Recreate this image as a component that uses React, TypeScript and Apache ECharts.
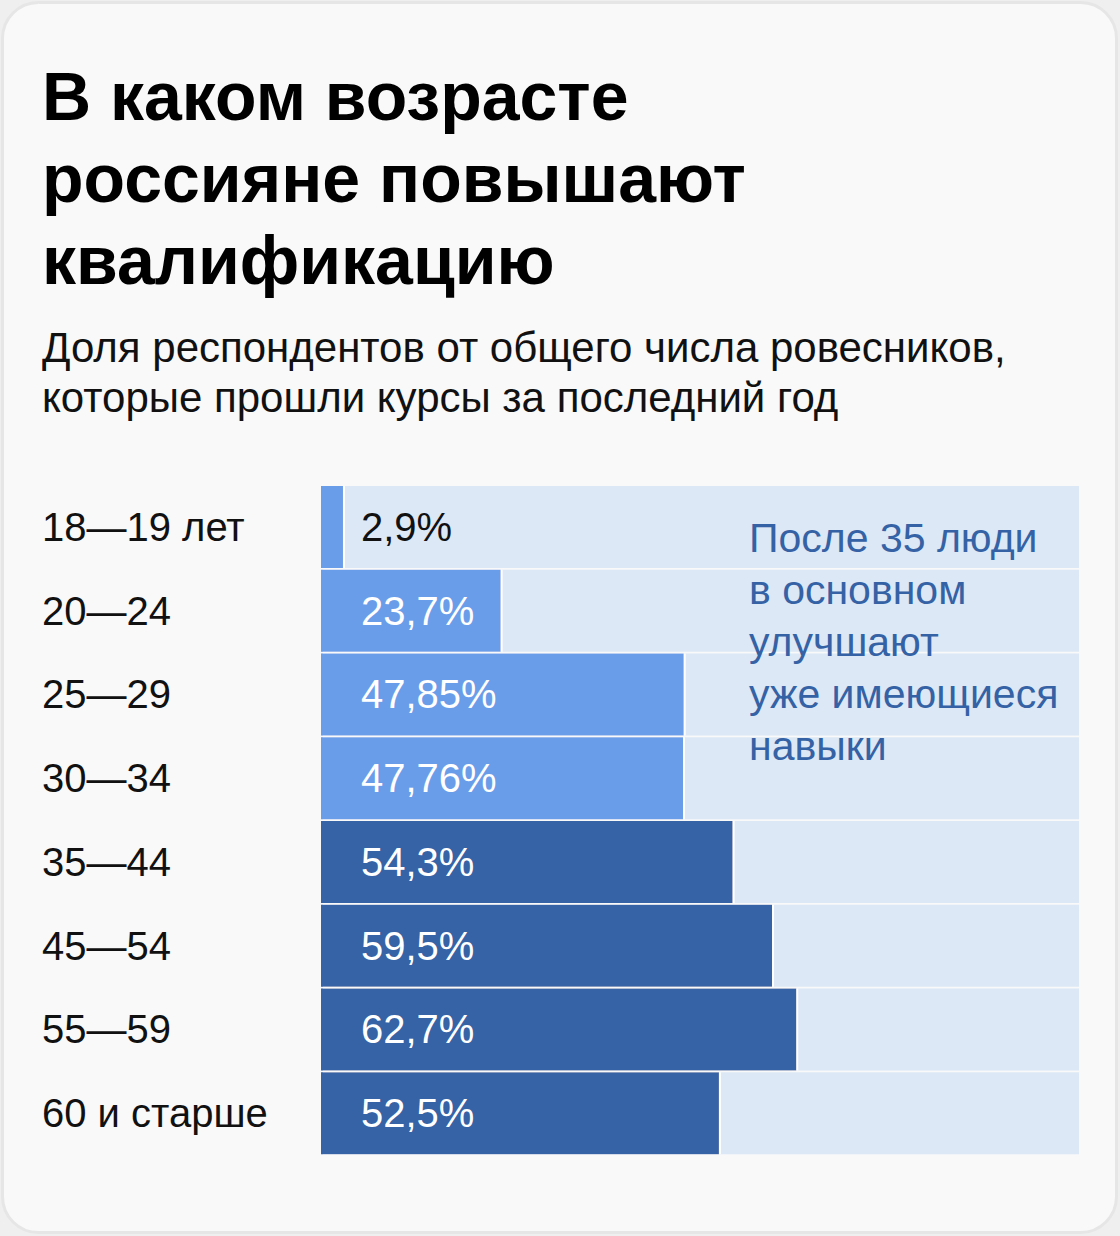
import React, { useEffect, useRef } from "react";
import * as echarts from "echarts";

const categories = ["18—19 лет", "20—24", "25—29", "30—34", "35—44", "45—54", "55—59", "60 и старше"];
const values = [2.9, 23.7, 47.85, 47.76, 54.3, 59.5, 62.7, 52.5];
const valueLabels = ["2,9%", "23,7%", "47,85%", "47,76%", "54,3%", "59,5%", "62,7%", "52,5%"];
const groups = ["young", "young", "young", "young", "old", "old", "old", "old"];
const fullScale = [100, 100, 100, 100, 100, 100, 100, 100];

const titleText = "В каком возрасте\nроссияне повышают\nквалификацию";
const subtitleText = "Доля респондентов от общего числа ровесников,\nкоторые прошли курсы за последний год";
const noteText = "После 35 люди\nв основном\nулучшают\nуже имеющиеся\nнавыки";

const FONT = "'Liberation Sans', Arial, sans-serif";
const LIGHT = "#6a9de9";
const DARK = "#3563a6";
const BG = "#dce8f5";

export default function App() {
  const ref = useRef<HTMLDivElement>(null);
  useEffect(() => {
    document.body.style.margin = "0";
    const chart = echarts.init(ref.current!, null, { renderer: "svg" });
    chart.setOption({
      animation: false,
      backgroundColor: "#efefef",
      textStyle: { fontFamily: FONT },
      grid: { left: 321, right: 41, top: 485, bottom: 81, containLabel: false },
      xAxis: { type: "value", min: 0, max: 100, show: false },
      yAxis: {
        type: "category",
        data: categories,
        inverse: true,
        axisLine: { show: false },
        axisTick: { show: false },
        splitLine: { show: false },
        axisLabel: {
          align: "left",
          margin: 279,
          fontSize: 40,
          color: "#111111",
          fontFamily: FONT,
        },
      },
      graphic: [
        {
          type: "rect",
          z: -10,
          silent: true,
          shape: { x: 2.5, y: 2.5, width: 1114, height: 1230, r: 36 },
          style: { fill: "#f9f9f9", stroke: "#e6e6e6", lineWidth: 3 },
        },
        {
          type: "text",
          x: 42,
          y: 55,
          style: {
            text: titleText,
            font: `bold 68px ${FONT}`,
            lineHeight: 82,
            fill: "#000000",
            textVerticalAlign: "top",
          },
        },
        {
          type: "text",
          x: 42,
          y: 322,
          style: {
            text: subtitleText,
            font: `42px ${FONT}`,
            lineHeight: 50,
            fill: "#111111",
            textVerticalAlign: "top",
          },
        },
        {
          type: "text",
          x: 749,
          y: 512,
          z: 100,
          style: {
            text: noteText,
            font: `41px ${FONT}`,
            lineHeight: 52,
            fill: "#3562a5",
            textVerticalAlign: "top",
          },
        },
      ],
      series: [
        {
          type: "bar",
          data: fullScale,
          barWidth: 82,
          barGap: "-100%",
          silent: true,
          itemStyle: { color: BG },
          z: 1,
        },
        {
          type: "bar",
          barWidth: 82,
          barGap: "-100%",
          z: 2,
          data: values.map((v, i) => ({
            value: v,
            itemStyle: { color: groups[i] === "young" ? LIGHT : DARK },
            label: { color: i === 0 ? "#111111" : "#ffffff" },
          })),
          itemStyle: { shadowColor: "#ffffff", shadowOffsetX: 2, shadowOffsetY: 0, shadowBlur: 0 },
          label: {
            show: true,
            position: "insideLeft",
            distance: 40,
            fontSize: 40,
            fontFamily: FONT,
            formatter: (p: any) => valueLabels[p.dataIndex],
          },
        },
      ],
    });
    return () => chart.dispose();
  }, []);
  return <div ref={ref} style={{ position: "absolute", left: 0, top: 0, width: 1120, height: 1236 }} />;
}
